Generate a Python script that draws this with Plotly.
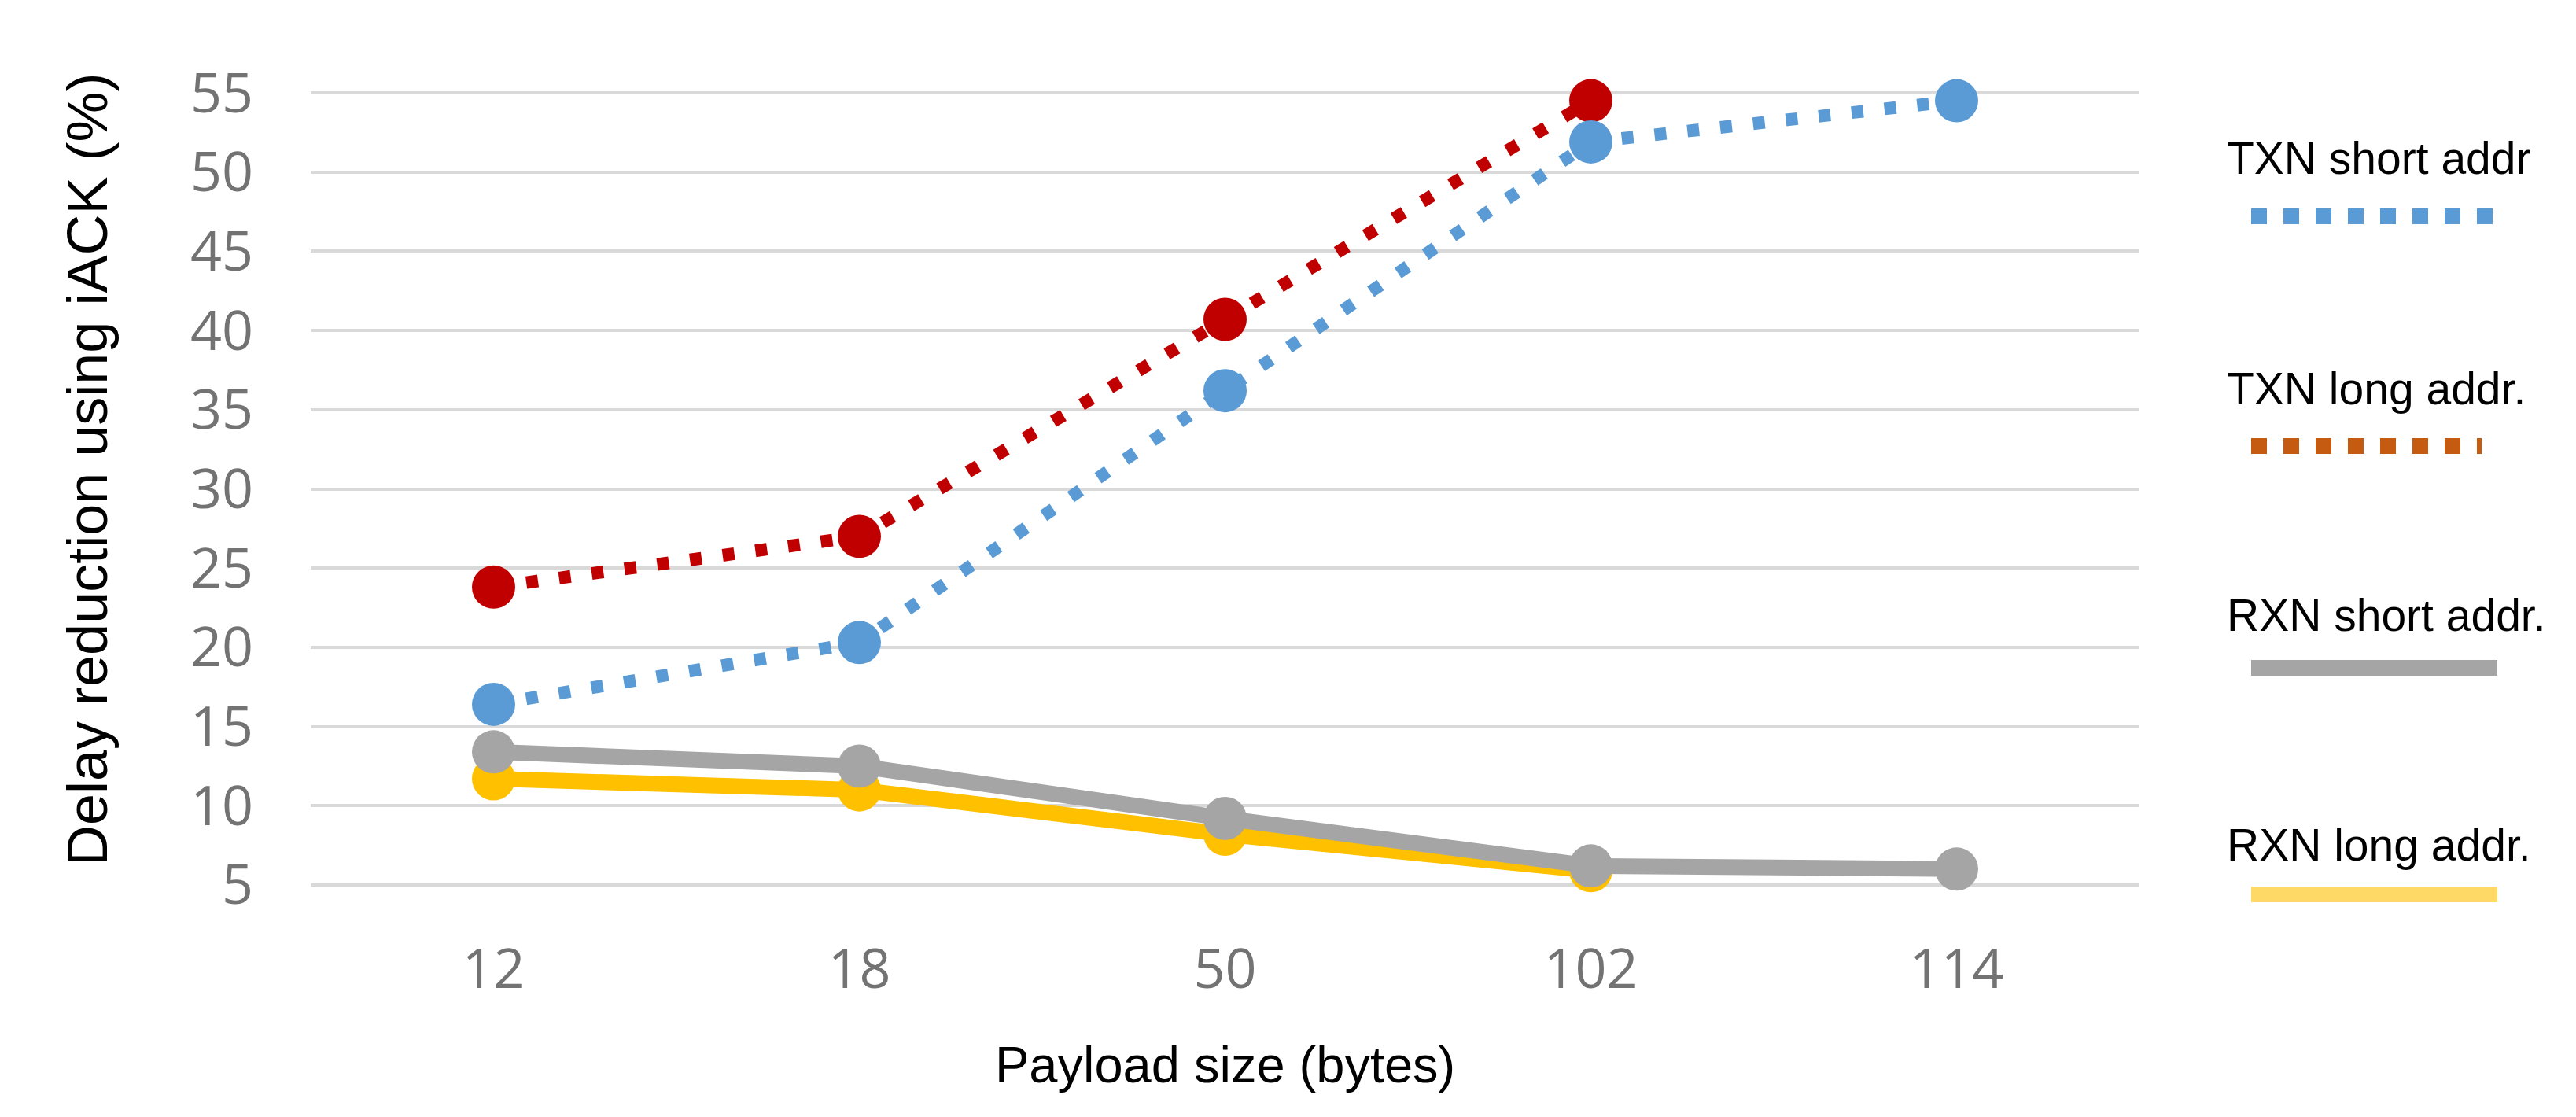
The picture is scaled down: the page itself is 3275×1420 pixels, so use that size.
import plotly.graph_objects as go

# ---- data ----
payload_sizes = ["12", "18", "50", "102", "114"]
txn_short = [16.4, 20.3, 36.2, 51.9, 54.5]
txn_long = [23.8, 27.0, 40.7, 54.5, None]
rxn_short = [13.4, 12.5, 9.2, 6.2, 6.0]
rxn_long = [11.7, 11.0, 8.2, 5.9, None]

legend_labels = ["TXN short addr", "TXN long addr.", "RXN short addr.", "RXN long addr."]
y_ticks = [5, 10, 15, 20, 25, 30, 35, 40, 45, 50, 55]

# ---- layout geometry (pixels) ----
W, H = 3275, 1420
L, R, T, B = 387, 2712, 108, 1119
Y_RANGE = [4.9, 55.1]


def px(x):
    return (x - L) / (R - L)


def py(y):
    return (B - y) / (B - T)


BLUE = "#5B9BD5"
RED = "#C00000"
GRAY = "#A5A5A5"
YELLOW = "#FFC000"

fig = go.Figure()

fig.add_trace(go.Scatter(
    x=payload_sizes, y=txn_long, mode="lines+markers", name=legend_labels[1],
    line=dict(color=RED, width=16, dash="15px,27px"),
    marker=dict(size=55, color=RED), cliponaxis=False))
fig.add_trace(go.Scatter(
    x=payload_sizes, y=txn_short, mode="lines+markers", name=legend_labels[0],
    line=dict(color=BLUE, width=16, dash="15px,27px"),
    marker=dict(size=55, color=BLUE), cliponaxis=False))
fig.add_trace(go.Scatter(
    x=payload_sizes, y=rxn_long, mode="lines+markers", name=legend_labels[3],
    line=dict(color=YELLOW, width=20),
    marker=dict(size=55, color=YELLOW), cliponaxis=False))
fig.add_trace(go.Scatter(
    x=payload_sizes, y=rxn_short, mode="lines+markers", name=legend_labels[2],
    line=dict(color=GRAY, width=20),
    marker=dict(size=55, color=GRAY), cliponaxis=False))

tick_font = dict(family="Open Sans, Liberation Sans, Arial", size=70, color="#737373")
sans = "Liberation Sans, Arial"

fig.update_layout(
    width=W, height=H,
    margin=dict(l=L, r=W - R, t=T, b=H - B, pad=0),
    paper_bgcolor="white", plot_bgcolor="white",
    showlegend=False,
    xaxis=dict(type="category", range=[-0.5, 4.5], showgrid=False, zeroline=False,
               showline=False, ticks="", tickfont=tick_font, ticklabelstandoff=58,
               fixedrange=True),
    yaxis=dict(range=Y_RANGE, tickmode="array", tickvals=y_ticks,
               ticktext=[str(v) for v in y_ticks],
               showgrid=True, gridcolor="#D9D9D9", gridwidth=4,
               zeroline=False, showline=False, ticks="", tickfont=tick_font,
               ticklabelstandoff=72, fixedrange=True),
)

annotations = [
    dict(text="Payload size (bytes)", xref="paper", yref="paper",
         x=0.5, y=py(1345), xanchor="center", yanchor="middle", showarrow=False,
         font=dict(family=sans, size=65, color="black")),
    dict(text="Delay reduction using iACK (%)", xref="paper", yref="paper",
         x=px(103), y=py(589), xanchor="center", yanchor="middle", showarrow=False,
         textangle=-90, font=dict(family=sans, size=72, color="black")),
]

legend_text_y = [193, 486, 774, 1066]
legend_line_y = [267, 559, 841, 1129]
legend_colors = [BLUE, "#C55A11", GRAY, "#FFD966"]
legend_dash = ["20px,21px", "20px,21px", "solid", "solid"]
legend_x1 = [3162, 3147, 3167, 3167]

shapes = []
for i, lab in enumerate(legend_labels):
    annotations.append(dict(
        text=lab, xref="paper", yref="paper", x=px(2821), y=py(legend_text_y[i]),
        xanchor="left", yanchor="middle", showarrow=False,
        font=dict(family=sans, size=57, color="black")))
    shapes.append(dict(
        type="line", xref="paper", yref="paper",
        x0=px(2854), x1=px(legend_x1[i]), y0=py(legend_line_y[i]), y1=py(legend_line_y[i]),
        line=dict(color=legend_colors[i], width=20, dash=legend_dash[i])))

fig.update_layout(annotations=annotations, shapes=shapes)

fig.write_html("out.html")
